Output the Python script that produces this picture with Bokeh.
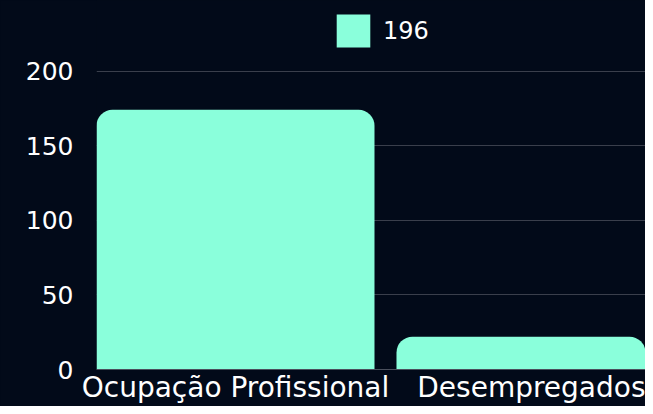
from bokeh.plotting import figure
from bokeh.models import Range1d, FixedTicker, Legend, LegendItem, ColumnDataSource
from bokeh.embed import file_html
from bokeh.resources import INLINE

categories = ["Ocupação Profissional", "Desempregados"]
values = [174, 22]
series_name = "196"
y_ticks = [0, 50, 100, 150, 200]

BG = "#020a19"
BAR = "#8affdb"
FONT = "DejaVu Sans"

xpos = list(range(len(categories)))
src = ColumnDataSource(dict(x=xpos, top=values))

p = figure(width=645, height=406, output_backend="svg", toolbar_location=None,
           x_range=Range1d(-0.4633, 1.3667), y_range=Range1d(0, 247.3),
           background_fill_color=BG, border_fill_color=BG,
           min_border_left=96, min_border_right=0, min_border_top=0, min_border_bottom=34)
p.outline_line_color = None
p.styles = {"background-color": BG}

r = p.vbar(x="x", top="top", bottom=0, width=0.9267, source=src,
           fill_color=BAR, line_color=None, border_radius=(16, 16, 0, 0))

p.xaxis.ticker = FixedTicker(ticks=xpos)
p.xaxis.major_label_overrides = {i: c for i, c in enumerate(categories)}
p.yaxis.ticker = FixedTicker(ticks=y_ticks)

for ax in (p.xaxis[0], p.yaxis[0]):
    ax.major_tick_line_color = None
    ax.minor_tick_line_color = None
    ax.major_tick_out = 0
    ax.major_tick_in = 0
    ax.major_label_text_color = "#ffffff"
    ax.major_label_text_font = FONT

p.xaxis.major_label_text_font_size = "28px"
p.yaxis.major_label_text_font_size = "25px"
p.xaxis.axis_line_color = "#4a4f5c"
p.yaxis.axis_line_color = None
p.yaxis.major_label_standoff = 23
p.xaxis.major_label_standoff = 1

p.xgrid.grid_line_color = None
p.ygrid.grid_line_color = "#3a3f4c"
p.ygrid.grid_line_width = 1

legend = Legend(items=[LegendItem(label=series_name, renderers=[r])],
                location=(236, 318), orientation="horizontal",
                glyph_width=42, glyph_height=41, label_standoff=9,
                padding=0, margin=0, border_line_color=None,
                background_fill_alpha=0,
                label_text_color="#ffffff", label_text_font=FONT,
                label_text_font_size="24px")
p.add_layout(legend, "center")

html = file_html(p, INLINE)
html = html.replace("<body>", '<body style="background:%s">' % BG, 1)
open("out.html", "w").write(html)
